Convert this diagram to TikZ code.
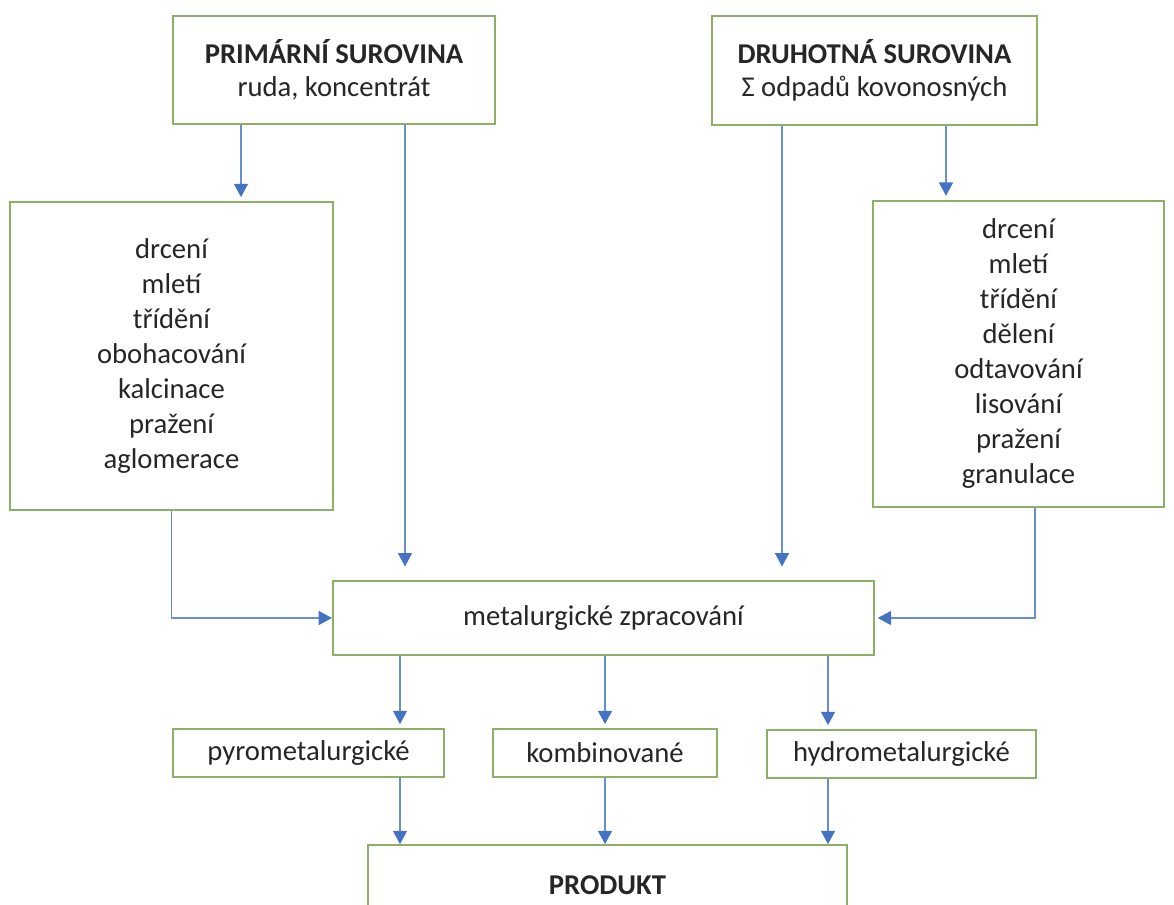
\documentclass[tikz,border=0pt]{standalone}
\usepackage{fontspec}
\setmainfont{Carlito}
\usetikzlibrary{arrows.meta}
\definecolor{boxgreen}{RGB}{141,176,104}
\definecolor{arrowblue}{RGB}{68,114,196}
\definecolor{textgray}{RGB}{38,38,38}

\begin{document}
\begin{tikzpicture}[
      x = 0.75pt, y = -0.75pt,
      every node/.style={text = textgray},
      flow/.style={
        -{Triangle[width = 10.5pt, length = 10pt, color = arrowblue]},
        draw = arrowblue!80, line width = 0.9pt,
        shorten > = 3pt,
      },
      stage/.style={
        draw = boxgreen,
        line width = 1.3pt,
        fill = white,
        align = center,
        inner sep = 0pt,
        font = \fontsize{21.5}{26.25}\selectfont,
      },
      source/.style={stage, font = \fontsize{21.5}{25}\selectfont},
      method/.style={stage, minimum height = 36pt},
    ]
    \useasboundingbox (0, 0) rectangle (1174, 905);

    \node[source, minimum width = 241pt, minimum height = 81pt] (prim) at (334, 70)
      {\textbf{PRIMÁRNÍ SUROVINA}\\ruda, koncentrát};
    \node[source, minimum width = 244pt, minimum height = 82pt] (druh) at (874.5, 70.5)
      {\textbf{DRUHOTNÁ SUROVINA}\\Σ odpadů kovonosných};

    \node[stage, minimum width = 242pt, minimum height = 231pt] (prepL) at (171.5, 356)
      {drcení\\mletí\\třídění\\obohacování\\kalcinace\\pražení\\aglomerace};
    \node[stage, minimum width = 218pt, minimum height = 230pt] (prepR) at (1018.5, 354)
      {drcení\\mletí\\třídění\\dělení\\odtavování\\lisování\\pražení\\granulace};

    \node[stage, minimum width = 406pt, minimum height = 56pt] (metal) at (603.5, 618)
      {metalurgické zpracování};

    \node[method, minimum width = 203pt] (pyro) at (308.5, 753) {pyrometalurgické};
    \node[method, minimum width = 168pt] (komb) at (605, 753) {kombinované};
    \node[method, minimum width = 202pt] (hydro) at (901.5, 754) {hydrometalurgické};

    \node[stage, minimum width = 359pt, minimum height = 60pt] (prod) at (607.5, 885)
      {\textbf{PRODUKT}};

    % columns the vertical connectors run along
    \coordinate (colA) at (241, 0);
    \coordinate (colB) at (405, 0);
    \coordinate (colC) at (782, 0);
    \coordinate (colD) at (946, 0);
    \coordinate (colE) at (1035, 0);
    \coordinate (colL) at (400, 0);
    \coordinate (colR) at (828, 0);

    \draw[flow] (prim.south -| colA) -- (prepL.north -| colA);
    \draw[flow, shorten > = 10pt] (prim.south -| colB) -- (metal.north -| colB);
    \draw[flow, shorten > = 10pt] (druh.south -| colC) -- (metal.north -| colC);
    \draw[flow] (druh.south -| colD) -- (prepR.north -| colD);

    \draw[flow, shorten > = 0pt] (prepL.south) |- (metal.west);
    \draw[flow, shorten > = 2pt] (prepR.south -| colE) |- (metal.east);

    \draw[flow] (metal.south -| colL) -- (pyro.north -| colL);
    \draw[flow] (metal.south -| komb) -- (komb.north);
    \draw[flow] (metal.south -| colR) -- (hydro.north -| colR);

    \draw[flow, shorten > = 0pt] (pyro.south -| colL) -- (prod.north -| colL);
    \draw[flow, shorten > = 0pt] (komb.south) -- (komb.south |- prod.north);
    \draw[flow, shorten > = 0pt] (hydro.south -| colR) -- (prod.north -| colR);
  \end{tikzpicture}
\end{document}
